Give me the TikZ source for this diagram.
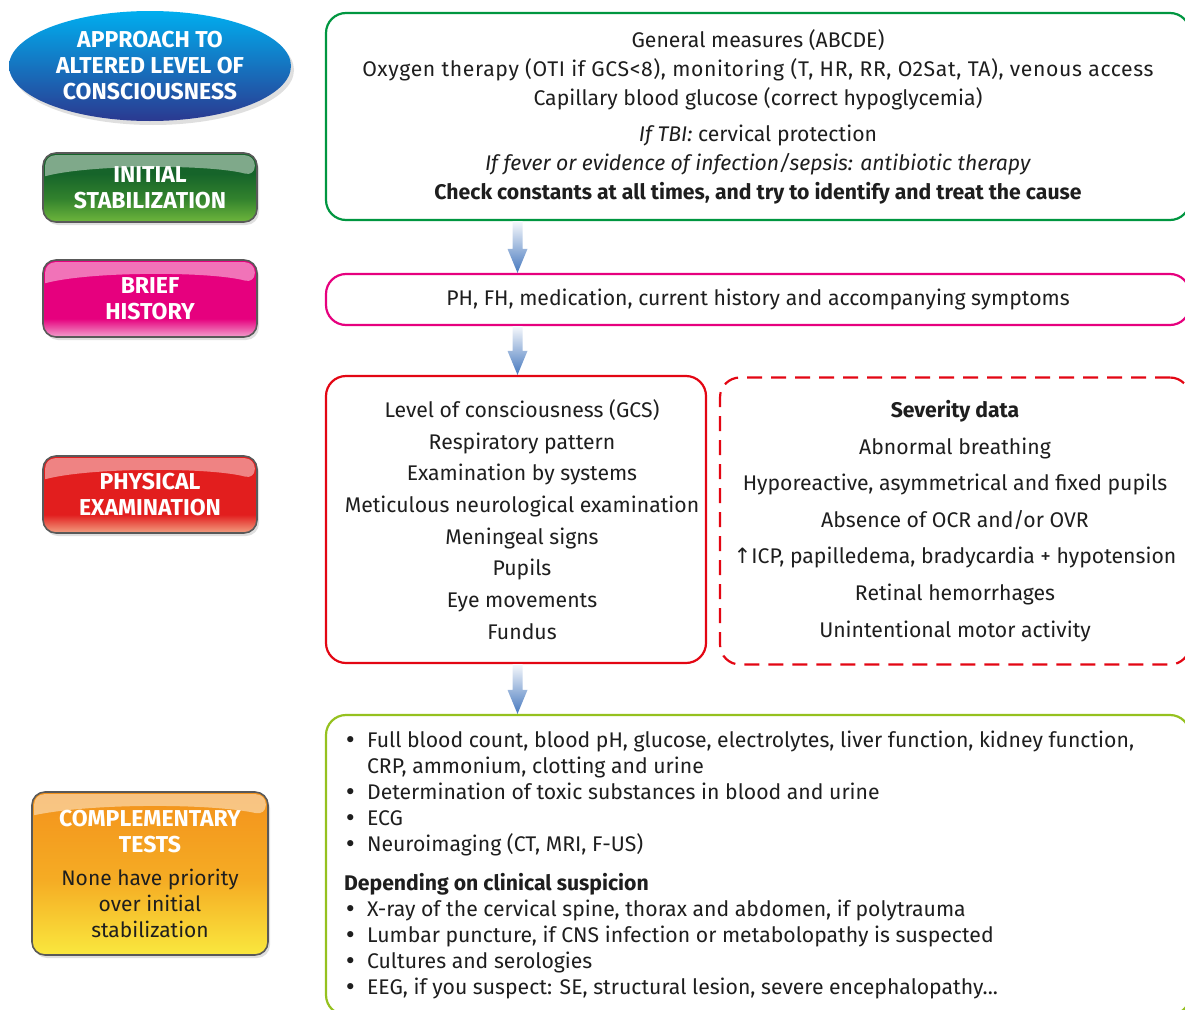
\documentclass[tikz,border=0pt]{standalone}
\usepackage{fontspec}
\setmainfont{Fira Sans}
\newfontfamily\symfont{DejaVu Sans}
\usetikzlibrary{positioning,shadows,calc,shapes.geometric}

\definecolor{stabgreen}{RGB}{0,150,64}
\definecolor{histpink}{RGB}{230,0,126}
\definecolor{examred}{RGB}{227,6,19}
\definecolor{testlime}{RGB}{149,193,31}
\definecolor{arrowblue}{RGB}{70,120,190}
\definecolor{textgray}{RGB}{30,30,30}
% button colours
\definecolor{stablight}{RGB}{110,182,60}
\definecolor{stabmid}{RGB}{50,130,45}
\definecolor{stabdark}{RGB}{22,100,42}
\definecolor{histlight}{RGB}{242,160,205}
\definecolor{examlight}{RGB}{242,160,130}
\definecolor{examfull}{RGB}{226,30,30}
\definecolor{compyellow}{RGB}{250,232,62}
\definecolor{compmid}{RGB}{245,172,36}
\definecolor{comporange}{RGB}{243,146,28}

% button shadings (path spans 25bp..75bp)
\pgfdeclareverticalshading{stabshade}{100bp}{color(0bp)=(stablight);
  color(25bp)=(stablight); color(42bp)=(stabmid);
  color(60bp)=(stabdark); color(100bp)=(stabdark)}
\pgfdeclareverticalshading{histshade}{100bp}{color(0bp)=(histlight);
  color(25bp)=(histlight); color(37bp)=(histpink); color(100bp)=(histpink)}
\pgfdeclareverticalshading{examshade}{100bp}{color(0bp)=(examlight);
  color(25bp)=(examlight); color(37bp)=(examfull); color(100bp)=(examfull)}
\pgfdeclareverticalshading{compshade}{100bp}{color(0bp)=(compyellow);
  color(25bp)=(compyellow); color(48bp)=(compmid);
  color(75bp)=(comporange); color(100bp)=(comporange)}

\tikzset{
  stepbox/.style={draw, line width=2.2pt, rounded corners=20pt, fill=white,
    text=textgray, align=center, font=\fontsize{21.2}{29}\selectfont},
  button/.style={rounded corners=13pt, draw=black!65, line width=1.6pt,
    minimum width=214pt, text=white, align=center,
    font=\bfseries\fontsize{23}{26}\selectfont,
    drop shadow={opacity=0.25, shadow xshift=2pt, shadow yshift=-3pt}},
}

% glossy highlight on top of a button
\newcommand{\gloss}[1]{%
  \fill[white, fill opacity=0.45, rounded corners=10pt]
    ($(#1.north west)+(3,24)$) -- ($(#1.north west)+(3,3)$)
    -- ($(#1.north east)+(-3,3)$) -- ($(#1.north east)+(-3,24)$)
    [sharp corners] .. controls ($(#1.north)+(60,12)$) and ($(#1.north)+(-60,12)$) .. cycle;
}
% thick shaded arrow between two boxes
\newcommand{\flowarrow}[2]{%
  \shade[top color=arrowblue!5, bottom color=arrowblue]
    let \p1=(#1), \p2=(#2) in
    ({\x1-5pt},{\y1}) -- ({\x1+5pt},{\y1}) -- ({\x1+5pt},{\y2+24pt})
    -- ({\x1+10pt},{\y2+24pt}) -- (\x1,\y2) -- ({\x1-10pt},{\y2+24pt})
    -- ({\x1-5pt},{\y2+24pt}) -- cycle;
}
\newcommand{\bul}{{\symfont •}}

\begin{document}
\begin{tikzpicture}[x=1pt, y=-1pt]
  \useasboundingbox (0,0) rectangle (1185,1009);
  \clip (0,0) rectangle (1185,1009);

  %left column
  \node[ellipse, minimum width=282pt, minimum height=110pt,
    top color={rgb,255:red,0;green,174;blue,239}, bottom color={rgb,255:red,43;green,57;blue,144},
    text=white, align=center, font=\bfseries\fontsize{23}{26}\selectfont,
    drop shadow={opacity=0.25, shadow xshift=3pt, shadow yshift=-4pt}]
    (title) at (150,66) {APPROACH TO\\ALTERED LEVEL OF\\CONSCIOUSNESS};
  \node[button, minimum height=69pt, shading=stabshade]
    (stab) at (150,187.5) {INITIAL\\STABILIZATION};
  \node[button, minimum height=77pt, shading=histshade]
    (hist) at (150,298.5) {BRIEF\\HISTORY};
  \node[button, minimum height=77pt, shading=examshade]
    (exam) at (150,494.5) {PHYSICAL\\EXAMINATION};
  \node[button, minimum width=236pt, minimum height=163pt, shading=compshade]
    (comp) at (150,873.5) {COMPLEMENTARY\\TESTS\\[7pt]
    {\mdseries\fontsize{21}{26}\selectfont\color{textgray}None have priority}\\
    {\mdseries\fontsize{21}{26}\selectfont\color{textgray}over initial}\\
    {\mdseries\fontsize{21}{26}\selectfont\color{textgray}stabilization}};
  \gloss{stab}
  \gloss{hist}
  \gloss{exam}
  \gloss{comp}

  %right column
  \node[stepbox, draw=stabgreen, minimum width=864pt, minimum height=207pt]
    (general) at (758,116.5) {General measures (ABCDE)\\
    {\addfontfeature{LetterSpace=3}Oxygen therapy (OTI if GCS<8), monitoring (T, HR, RR, O2Sat, TA), venous access}\\
    Capillary blood glucose (correct hypoglycemia)\\[7pt]
    \textit{If TBI:} cervical protection\\
    \textit{If fever or evidence of infection/sepsis: antibiotic therapy}\\
    \textbf{Check constants at all times, and try to identify and treat the cause}};
  \node[stepbox, draw=histpink, minimum width=864pt, minimum height=51pt]
    (history) at (758,299.5) {PH, FH, medication, current history and accompanying symptoms};
  \node[stepbox, draw=examred, minimum width=380pt, minimum height=287pt]
    (physical) at (516,519.5) {};
  \node[text=textgray, align=center, font=\fontsize{21.2}{31.7}\selectfont]
    (signs) at ($(physical.center)+(6,0)$) {Level of consciousness (GCS)\\
    Respiratory pattern\\
    Examination by systems\\
    Meticulous neurological examination\\
    Meningeal signs\\
    Pupils\\
    Eye movements\\
    Fundus};
  \node[stepbox, draw=examred, dashed, dash pattern=on 15pt off 9pt,
    minimum width=470pt, minimum height=287pt,
    font=\fontsize{21.2}{36.6}\selectfont]
    (severity) at (955,521) {\textbf{Severity data}\\
    Abnormal breathing\\
    Hyporeactive, asymmetrical and fixed pupils\\
    Absence of OCR and/or OVR\\
    {\symfont ↑}ICP, papilledema, bradycardia + hypotension\\
    Retinal hemorrhages\\
    Unintentional motor activity};
  \node[stepbox, draw=testlime, minimum width=864pt, minimum height=300pt]
    (tests) at (758,865) {};
  \node[anchor=north west, inner sep=0pt, align=left, text=textgray,
    font=\fontsize{21.2}{26}\selectfont]
    (testlist) at ($(tests.north west)+(19,15)$) {%
    \begin{tabular}{@{}p{23pt}@{}l@{}}
      \bul & Full blood count, blood pH, glucose, electrolytes, liver function, kidney function,\\
       & CRP, ammonium, clotting and urine\\
      \bul & Determination of toxic substances in blood and urine\\
      \bul & ECG\\
      \bul & Neuroimaging (CT, MRI, F-US)\\[13pt]
      \multicolumn{2}{@{}l}{\bfseries Depending on clinical suspicion}\\
      \bul & X-ray of the cervical spine, thorax and abdomen, if polytrauma\\
      \bul & Lumbar puncture, if CNS infection or metabolopathy is suspected\\
      \bul & Cultures and serologies\\
      \bul & EEG, if you suspect: SE, structural lesion, severe encephalopathy...
    \end{tabular}};

  %arrows
  \coordinate (axis) at (517.5,0);
  \flowarrow{axis |- general.south}{axis |- history.north}
  \flowarrow{axis |- history.south}{axis |- physical.north}
  \flowarrow{axis |- physical.south}{axis |- tests.north}
\end{tikzpicture}
\end{document}
